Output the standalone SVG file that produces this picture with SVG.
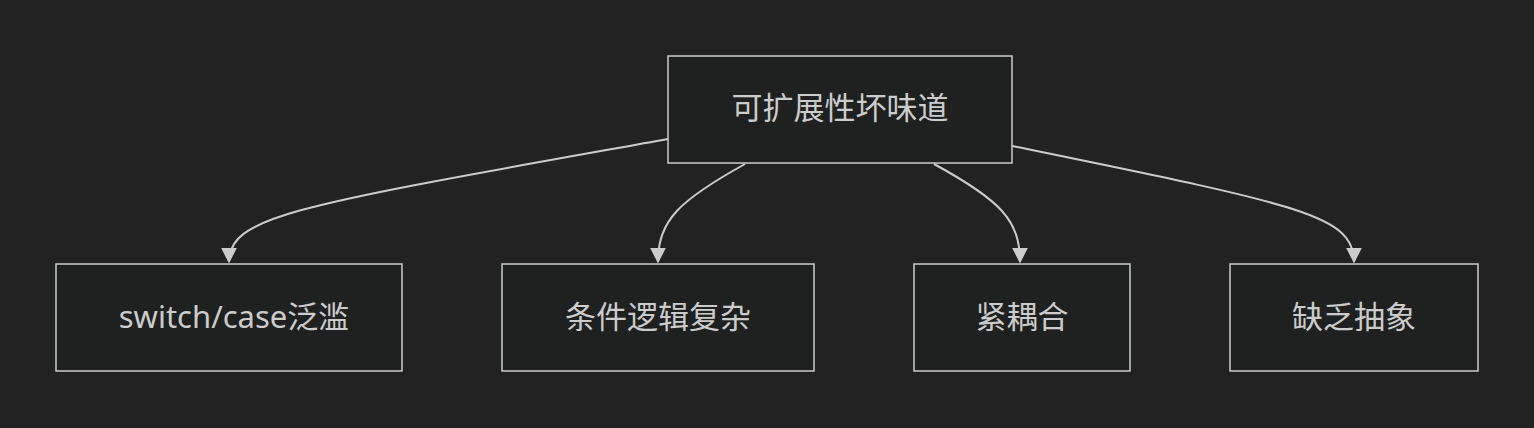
<svg xmlns="http://www.w3.org/2000/svg" width="1534" height="428" viewBox="0 0 1534 428">
<style>
.n rect{fill:#1f2020;stroke:#cccccc;stroke-width:1.5}
.n text{fill:#cccccc;font-family:"Noto Sans","Noto Sans CJK SC",sans-serif;font-size:31px;text-anchor:middle;dominant-baseline:central}
.e path{fill:none;stroke:#cccccc;stroke-width:2;marker-end:url(#a)}
</style>
<defs><marker id="a" viewBox="0 0 10 10" refX="9" refY="5" markerWidth="8" markerHeight="8" orient="auto"><path d="M0,0L10,5L0,10z" fill="#cccccc"/></marker></defs>
<rect width="1534" height="428" fill="#222222"/>
<g class="e">
<path d="M668,139 C300,205 229,215 229,262"/>
<path d="M745,164 C680,200 658,220 658,262"/>
<path d="M934,164 C1000,200 1020,220 1020,262"/>
<path d="M1012,146 C1300,205 1354,215 1354,262"/>
</g>
<g id="top" class="n"><rect x="668" y="56" width="344" height="107"/><text x="840" y="107">可扩展性坏味道</text></g>
<g id="n1" class="n"><rect x="56" y="264" width="346" height="107"/><text x="234" y="316">switch/case泛滥</text></g>
<g id="n2" class="n"><rect x="502" y="264" width="312" height="107"/><text x="658" y="316">条件逻辑复杂</text></g>
<g id="n3" class="n"><rect x="914" y="264" width="216" height="107"/><text x="1022" y="316">紧耦合</text></g>
<g id="n4" class="n"><rect x="1230" y="264" width="248" height="107"/><text x="1354" y="316">缺乏抽象</text></g>
</svg>
